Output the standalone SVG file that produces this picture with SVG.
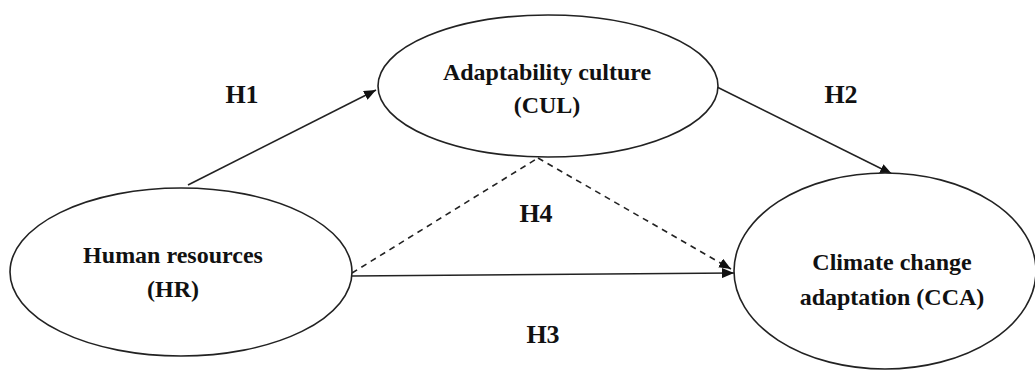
<svg xmlns="http://www.w3.org/2000/svg" width="1035" height="370" viewBox="0 0 1035 370">
<style>
.node{fill:#fff;stroke:#222;stroke-width:1.6}
.t{font-family:'Liberation Serif','DejaVu Serif',serif;font-weight:bold;font-size:24px;fill:#111;text-anchor:middle}
.h{font-family:'Liberation Serif','DejaVu Serif',serif;font-weight:bold;font-size:26px;fill:#111;text-anchor:middle}
.c{stroke:#222;stroke-width:1.6;fill:none}
.d{stroke:#222;stroke-width:1.6;fill:none;stroke-dasharray:6,5}
</style>
<defs>
<marker id="ah" viewBox="0 0 12 10" refX="12" refY="5" markerWidth="12" markerHeight="10" markerUnits="userSpaceOnUse" orient="auto">
<path d="M0,0 L12,5 L0,10 Z" fill="#111"/>
</marker>
</defs>
<g id="connectors">
<line class="c" x1="188" y1="185" x2="376" y2="90" marker-end="url(#ah)"/>
<line class="c" x1="717" y1="87" x2="892" y2="174" marker-end="url(#ah)"/>
<line class="c" x1="352" y1="276" x2="734" y2="273" marker-end="url(#ah)"/>
<line class="d" x1="352" y1="273" x2="538" y2="158"/>
<line class="d" x1="538" y1="158" x2="731" y2="269" marker-end="url(#ah)"/>
</g>
<g id="CUL">
<ellipse class="node" cx="548" cy="86" rx="170" ry="71"/>
<text class="t" x="547" y="80" font-family="Liberation Serif">Adaptability culture</text>
<text class="t" x="547" y="113" font-family="Liberation Serif">(CUL)</text>
</g>
<g id="HR">
<ellipse class="node" cx="181" cy="272" rx="171" ry="84"/>
<text class="t" x="173" y="263">Human resources</text>
<text class="t" x="173" y="297">(HR)</text>
</g>
<g id="CCA">
<ellipse class="node" cx="885" cy="271" rx="151" ry="98"/>
<text class="t" x="892" y="270">Climate change</text>
<text class="t" x="892" y="305">adaptation (CCA)</text>
</g>
<g id="labels">
<text class="h" x="242" y="103">H1</text>
<text class="h" x="841" y="103">H2</text>
<text class="h" x="543" y="343">H3</text>
<text class="h" x="536" y="222">H4</text>
</g>
</svg>
